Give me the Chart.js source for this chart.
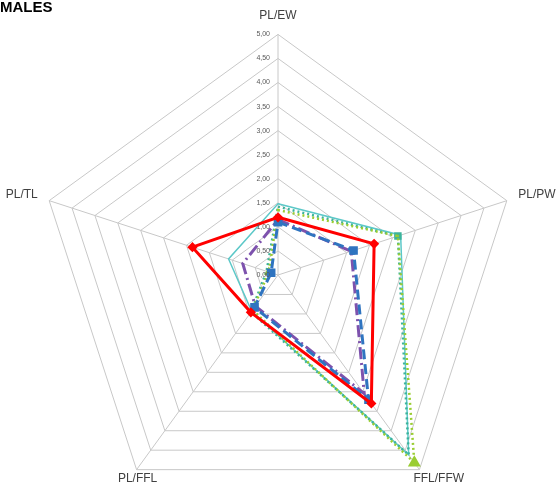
<!DOCTYPE html>
<html>
<head>
<meta charset="utf-8">
<script src="https://cdn.jsdelivr.net/npm/chart.js@4.4.1/dist/chart.umd.min.js"></script>
<style>
  html, body { margin: 0; padding: 0; background: #fff; overflow: hidden; }
  #wrap { position: relative; width: 556px; height: 488px; overflow: hidden; }
  #radarChart { position: absolute; left: 3px; top: -5px; }
  #title { position: absolute; left: 0; top: -2px; font: bold 15px "Liberation Sans", Arial, sans-serif; color: #000; }
</style>
</head>
<body>
<div id="wrap">
  <canvas id="radarChart" width="556" height="534"></canvas>
  <div id="title">MALES</div>
</div>
<script>
// axes, clockwise from the top
const labels = ["PL/EW", "PL/PW", "FFL/FFW", "PL/FFL", "PL/TL"];

// series values
const redSeries = [1.2, 2.1, 3.3, 0.96, 1.87];
const blueSeries = [1.1, 1.65, 3.2, 0.83, 0.15];
const purpleSeries = [1.15, 1.6, 3.05, 0.8, 0.77];
const cyanSeries = [1.48, 2.68, 4.62, 0.93, 1.08];
const greenSeries = [1.35, 2.62, 4.82, 0.9, 0.2];
const tealSeries = [1.42, 2.62, 4.62, 0.95, 0.25];

// radial scale
const scaleMin = 0;
const scaleMax = 5;
const scaleStep = 0.5;

const fmt = (v) => v.toFixed(2).replace(".", ",");

// Draws tick labels just left of the vertical axis, like Excel does
const tickLabelPlugin = {
  id: "tickLabels",
  afterDatasetsDraw(chart) {
    const r = chart.scales.r;
    const ctx = chart.ctx;
    ctx.save();
    ctx.font = "7px 'Liberation Sans', Arial, sans-serif";
    ctx.fillStyle = "#595959";
    ctx.textAlign = "right";
    ctx.textBaseline = "middle";
    r.ticks.forEach((t) => {
      const d = r.getDistanceFromCenterForValue(t.value);
      ctx.fillText(fmt(t.value), r.xCenter - 8, r.yCenter - d);
    });
    ctx.restore();
  },
};

// Nudge the axis titles to sit where Excel puts them
const labelPlacePlugin = {
  id: "labelPlace",
  afterUpdate(chart) {
    const r = chart.scales.r;
    const items = r._pointLabelItems;
    if (!items) return;
    const outer = r.drawingArea;
    items.forEach((item, i) => {
      const p = r.getPointPosition(i, outer);
      if (i === 1 || i === 4) {
        item.y += 5;
      } else if (i === 2) {
        item.textAlign = "left";
        item.x = p.x - 6;
        item.y = p.y + 2;
      } else if (i === 3) {
        item.textAlign = "center";
        item.x = p.x + 1;
        item.y = p.y + 2;
      }
    });
  },
};

const chartRadar = document.getElementById("radarChart");

new Chart(chartRadar, {
  type: "radar",
  data: {
    labels: labels,
    datasets: [
      {
        label: "red",
        data: redSeries,
        borderColor: "#ff0000",
        backgroundColor: "#ff0000",
        borderWidth: 3,
        pointStyle: "rectRot",
        pointRadius: 3,
        fill: false,
        order: 1,
      },
      {
        label: "blue",
        data: blueSeries,
        borderColor: "#2f74c0",
        backgroundColor: "#2f74c0",
        borderWidth: 3,
        borderDash: [10, 5],
        pointStyle: "rect",
        pointRadius: 4,
        fill: false,
        order: 2,
      },
      {
        label: "purple",
        data: purpleSeries,
        borderColor: "#7d52ad",
        backgroundColor: "#7d52ad",
        borderWidth: 3,
        borderDash: [12, 4, 2, 4],
        pointRadius: 0,
        fill: false,
        order: 3,
      },
      {
        label: "green",
        data: greenSeries,
        borderColor: "#9acd32",
        backgroundColor: "#9acd32",
        borderWidth: 2.5,
        borderDash: [2, 3],
        pointStyle: "triangle",
        pointRadius: [0, 0, 5, 0, 3],
        fill: false,
        order: 4,
      },
      {
        label: "teal",
        data: tealSeries,
        borderColor: "#3bb39b",
        backgroundColor: "#8cc63f",
        borderWidth: 2.5,
        borderDash: [2, 3],
        pointStyle: "rect",
        pointRadius: [0, 3.5, 0, 0, 0],
        fill: false,
        order: 5,
      },
      {
        label: "cyan",
        data: cyanSeries,
        borderColor: "#5cc8c8",
        backgroundColor: "#5cc8c8",
        borderWidth: 1.5,
        pointRadius: 0,
        fill: false,
        order: 6,
      },
    ],
  },
  options: {
    responsive: false,
    animation: false,
    layout: { padding: 0 },
    elements: { line: { tension: 0 } },
    plugins: {
      legend: { display: false },
      tooltip: { enabled: false },
    },
    scales: {
      r: {
        min: scaleMin,
        max: scaleMax,
        ticks: { stepSize: scaleStep, display: false },
        grid: { color: "#c8c8c8", lineWidth: 1 },
        angleLines: { color: "#c8c8c8", lineWidth: 1 },
        pointLabels: {
          padding: 12,
          color: "#404040",
          font: { family: "'Liberation Sans', Arial, sans-serif", size: 12 },
        },
      },
    },
  },
  plugins: [tickLabelPlugin, labelPlacePlugin],
});
</script>
</body>
</html>
